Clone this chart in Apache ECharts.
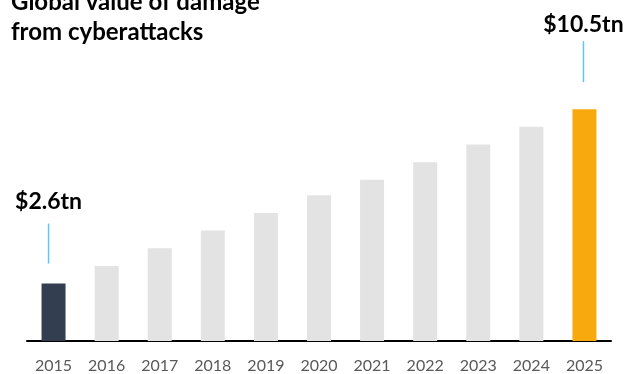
<!DOCTYPE html>
<html>
<head>
<meta charset="utf-8">
<script src="https://cdn.jsdelivr.net/npm/echarts@6/dist/echarts.min.js"></script>
<style>
  html, body { margin: 0; padding: 0; background: #ffffff; }
  #chart { width: 628px; height: 374px; }
</style>
</head>
<body>
<div id="chart"></div>
<script>
// Global value of damage from cyberattacks, trillions of US dollars
const years = ['2015', '2016', '2017', '2018', '2019', '2020', '2021', '2022', '2023', '2024', '2025'];
const damageTn = [2.6, 3.4, 4.2, 5.0, 5.8, 6.6, 7.3, 8.1, 8.9, 9.7, 10.5];
// Years that get a callout with their value
const calloutYears = ['2015', '2025'];

const FONT = 'Lato, "Open Sans", sans-serif';
const barColor = (i) => i === 0 ? '#333f50' : (i === years.length - 1 ? '#f7a90d' : '#e3e3e3');

const chart = echarts.init(document.getElementById('chart'), null, { renderer: 'canvas' });

// Callout geometry (gap above bar, leader length, gap to text) per callout
const calloutStyle = {
  '2015': { gap: 20, len: 40, dx: -5, textGap: 11 },
  '2025': { gap: 27, len: 41, dx: -1, textGap: 5 }
};

const calloutData = calloutYears.map((y) => {
  const i = years.indexOf(y);
  return [i, damageTn[i]];
});

chart.setOption({
  animation: false,
  title: {
    text: 'Global value of damage\nfrom cyberattacks',
    left: 6,
    top: -18,
    textStyle: {
      fontFamily: FONT,
      fontWeight: 'bold',
      fontSize: 24,
      lineHeight: 30,
      color: '#000000'
    }
  },
  grid: { left: 27, right: 17, top: 76, bottom: 33 },
  xAxis: {
    type: 'category',
    data: years,
    axisLine: { show: true, lineStyle: { color: '#000000', width: 2 } },
    axisTick: { show: false },
    axisLabel: {
      color: '#595959',
      fontFamily: FONT,
      fontSize: 16,
      margin: 17
    }
  },
  yAxis: {
    type: 'value',
    min: 0,
    max: 12,
    show: false,
    splitLine: { show: false }
  },
  series: [
    {
      type: 'bar',
      barWidth: 24,
      data: damageTn.map((v, i) => ({ value: v, itemStyle: { color: barColor(i) } }))
    },
    {
      type: 'custom',
      silent: true,
      data: calloutData,
      z: 5,
      renderItem: (params, api) => {
        const idx = api.value(0);
        const pt = api.coord([idx, api.value(1)]);
        const st = calloutStyle[years[idx]];
        const x = pt[0] + st.dx;
        const y0 = pt[1] - st.gap;
        const y1 = y0 - st.len;
        return {
          type: 'group',
          children: [
            {
              type: 'line',
              shape: { x1: x, y1: y0, x2: x, y2: y1 },
              style: { stroke: '#5cc8f2', lineWidth: 1.5 }
            },
            {
              type: 'text',
              x: x,
              y: y1 - st.textGap,
              style: {
                text: '$' + api.value(1).toFixed(1) + 'tn',
                fontFamily: FONT,
                fontWeight: 'bold',
                fontSize: 23,
                fill: '#000000',
                align: 'center',
                verticalAlign: 'bottom'
              }
            }
          ]
        };
      }
    }
  ]
});
</script>
</body>
</html>
